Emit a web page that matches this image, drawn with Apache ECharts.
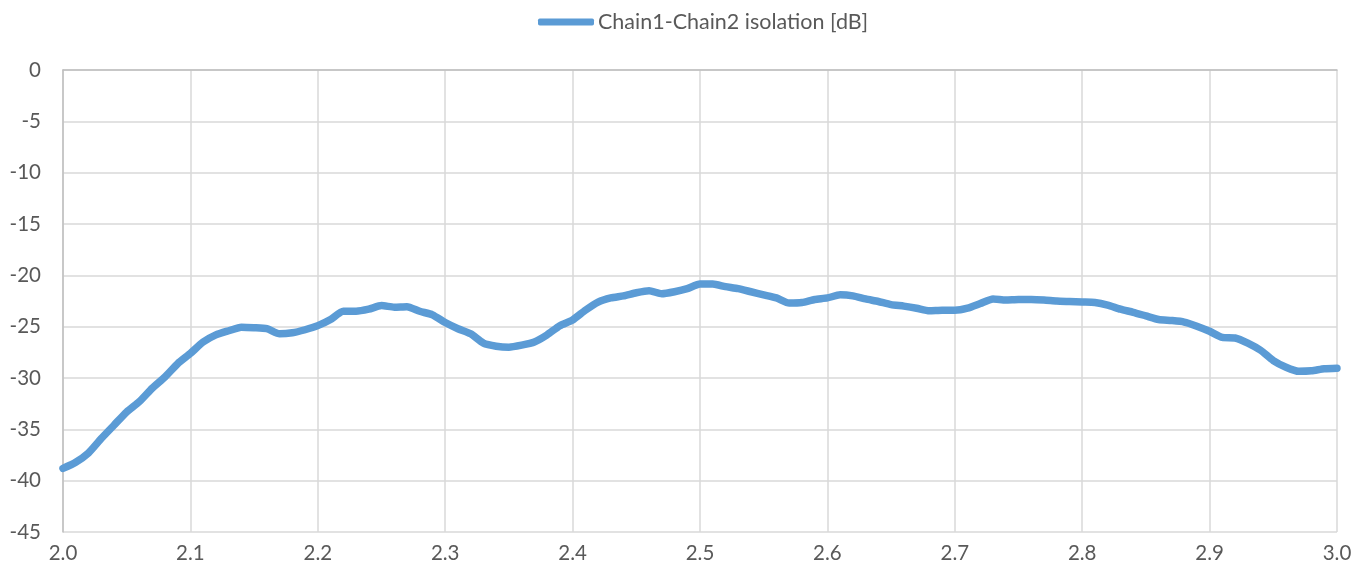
<!DOCTYPE html>
<html>
<head>
<meta charset="utf-8">
<script src="https://cdn.jsdelivr.net/npm/echarts@6/dist/echarts.min.js"></script>
<style>
html,body{margin:0;padding:0;background:#fff;}
#chart{width:1368px;height:573px;}
</style>
</head>
<body>
<div id="chart"></div>
<script>
const seriesName = 'Chain1-Chain2 isolation [dB]';
const freqStart = 2.0;
const freqStep = 0.01;
const isolation = [
  -38.8, -38.2, -37.3, -35.9, -34.6, -33.3, -32.3, -31.0, -29.9, -28.6,
  -27.6, -26.5, -25.8, -25.4, -25.05, -25.1, -25.2, -25.7, -25.6, -25.3,
  -24.9, -24.3, -23.5, -23.5, -23.3, -22.95, -23.1, -23.05, -23.5, -23.85,
  -24.6, -25.2, -25.7, -26.6, -26.9, -27.0, -26.8, -26.5, -25.8, -24.9,
  -24.35, -23.4, -22.6, -22.2, -22.0, -21.7, -21.5, -21.8, -21.6, -21.3,
  -20.85, -20.85, -21.1, -21.3, -21.6, -21.9, -22.2, -22.7, -22.65, -22.35,
  -22.2, -21.9, -22.0, -22.3, -22.55, -22.85, -23.0, -23.2, -23.45, -23.4,
  -23.4, -23.2, -22.75, -22.3, -22.4, -22.35, -22.35, -22.4, -22.5, -22.55,
  -22.6, -22.65, -22.9, -23.3, -23.6, -23.95, -24.3, -24.4, -24.55, -24.95,
  -25.45, -26.05, -26.1, -26.6, -27.3, -28.3, -28.95, -29.35, -29.3, -29.1,
  -29.05
];
const xTicks = { min: 2.0, max: 3.0, interval: 0.1 };
const yTicks = { min: -45, max: 0, interval: 5 };

const data = isolation.map((v, i) => [+(freqStart + i * freqStep).toFixed(3), v]);

const chart = echarts.init(document.getElementById('chart'));
const fontFamily = 'Lato, "Open Sans", "Liberation Sans", sans-serif';
chart.setOption({
  animation: false,
  backgroundColor: '#ffffff',
  textStyle: { fontFamily },
  legend: {
    left: 538,
    top: 11,
    padding: 0,
    itemWidth: 56,
    itemHeight: 7,
    itemGap: 4,
    icon: 'roundRect',
    textStyle: { fontSize: 21.5, color: '#595959', fontFamily, padding: [0, 0, 0, -1] },
    data: [seriesName]
  },
  grid: { left: 63, right: 31, top: 70, bottom: 41, containLabel: false },
  xAxis: {
    type: 'value',
    min: xTicks.min,
    max: xTicks.max,
    interval: xTicks.interval,
    axisLine: { show: true, lineStyle: { color: '#bfbfbf', width: 1.5 } },
    axisTick: { show: false },
    axisLabel: {
      color: '#595959', fontSize: 20.5, margin: 11,
      formatter: v => v.toFixed(1)
    },
    splitLine: { show: true, lineStyle: { color: '#d9d9d9', width: 1.5 } }
  },
  yAxis: {
    type: 'value',
    min: yTicks.min,
    max: yTicks.max,
    interval: yTicks.interval,
    axisLine: { show: true, lineStyle: { color: '#bfbfbf', width: 1.5 } },
    axisTick: { show: false },
    axisLabel: { color: '#595959', fontSize: 20.5, margin: 22 },
    splitLine: { show: true, lineStyle: { color: '#d9d9d9', width: 1.5 } }
  },
  series: [{
    name: seriesName,
    type: 'line',
    data: data,
    showSymbol: false,
    symbol: 'none',
    smooth: 0.2,
    lineStyle: { color: '#5b9bd5', width: 7.5, cap: 'round', join: 'round' },
    itemStyle: { color: '#5b9bd5' }
  }]
});
</script>
</body>
</html>
